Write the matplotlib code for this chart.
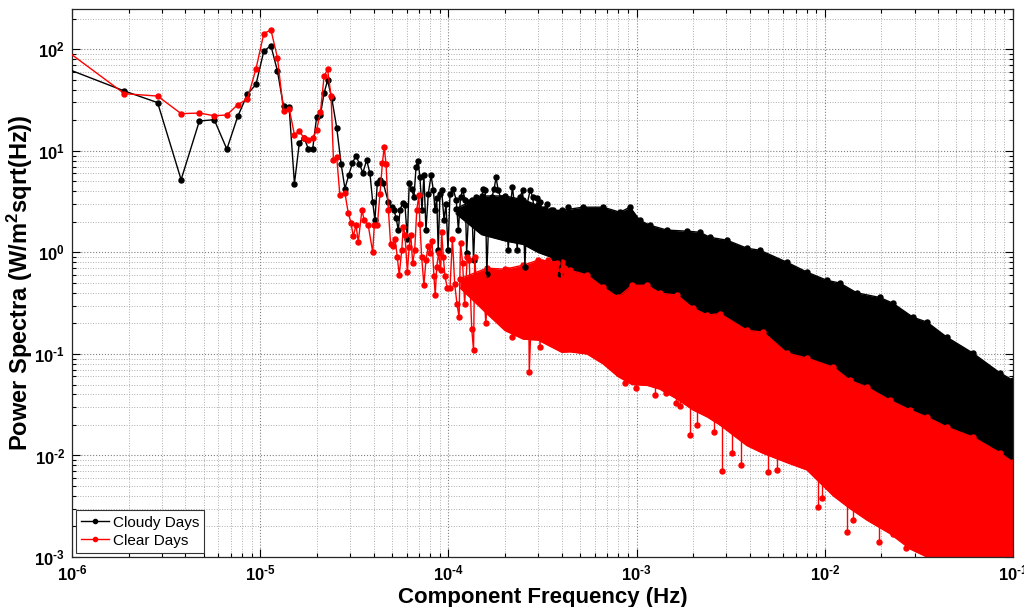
import numpy as np
import matplotlib
matplotlib.use("Agg")
import matplotlib.pyplot as plt
from matplotlib.ticker import LogLocator, NullFormatter, FuncFormatter

plt.rcParams['font.family'] = ['Liberation Sans', 'DejaVu Sans']
plt.rcParams['mathtext.fontset'] = 'custom'
plt.rcParams['mathtext.rm'] = 'Liberation Sans'
plt.rcParams['mathtext.bf'] = 'Liberation Sans:bold'
plt.rcParams['mathtext.it'] = 'Liberation Sans:italic'

# frequency resolution of the spectra (Hz); bin k sits at k * DF
DF = 0.95e-6

# lowest bins, k = 1 .. 24
cloudy_low = [64, 38.9, 29.9, 5.21, 19.7, 20.3, 10.4, 21.9, 36.1, 45.3, 96, 109,
              61.1, 27.5, 27.0, 4.77, 12.1, 13.5, 10.4, 10.4, 21.6, 22.8, 37.2, 49.5]
clear_low = [95, 36.6, 34.7, 23.3, 23.6, 22.2, 22.6, 28.6, 32.4, 64.6, 143, 156,
             82.8, 24.7, 26.1, 14.5, 15.6, 13.4, 12.7, 13.5, 16.0, 24.2, 54.2, 63.6]

# intermediate band, individual bins
cloudy_mid_f = [2.40e-5, 2.55e-5, 2.69e-5, 2.82e-5, 2.96e-5, 3.09e-5, 3.23e-5, 3.36e-5,
                3.51e-5, 3.68e-5, 3.83e-5, 3.96e-5, 4.07e-5, 4.19e-5, 4.33e-5, 4.51e-5,
                4.80e-5, 5.00e-5, 5.14e-5, 5.27e-5, 5.42e-5, 5.53e-5, 5.72e-5, 5.88e-5,
                6.05e-5, 6.19e-5, 6.38e-5, 6.56e-5, 6.73e-5, 6.89e-5, 7.06e-5, 7.24e-5,
                7.41e-5, 7.60e-5, 7.82e-5, 8.09e-5, 8.32e-5, 8.49e-5, 8.67e-5, 8.83e-5,
                9.02e-5, 9.21e-5, 9.48e-5, 9.71e-5, 9.95e-5, 1.02e-4, 1.06e-4, 1.10e-4,
                1.13e-4, 1.16e-4, 1.19e-4, 1.23e-4, 1.25e-4, 1.29e-4, 1.33e-4, 1.36e-4,
                1.40e-4, 1.44e-4, 1.49e-4, 1.52e-4, 1.57e-4, 1.60e-4, 1.65e-4, 1.70e-4,
                1.75e-4, 1.79e-4, 1.84e-4, 1.90e-4, 1.94e-4, 1.97e-4, 2.02e-4, 2.08e-4,
                2.14e-4, 2.19e-4, 2.26e-4, 2.32e-4, 2.40e-4, 2.48e-4, 2.55e-4, 2.62e-4,
                2.72e-4, 2.81e-4, 2.88e-4, 2.97e-4, 3.07e-4, 3.13e-4, 3.22e-4, 3.36e-4,
                3.47e-4, 3.58e-4, 3.68e-4, 3.79e-4, 3.92e-4, 4.05e-4, 4.17e-4, 4.34e-4]
cloudy_mid = [33, 17, 7.5, 4.26, 5.85, 7.6, 9.0, 7.5,
              6.1, 8.1, 6.0, 3.14, 2.07, 4.83, 5.14, 4.8,
              3.14, 2.8, 2.6, 2.2, 1.65, 2.6, 3.1, 2.9,
              1.37, 4.8, 4.2, 3.5, 6.9, 8.0, 5.5, 2.6,
              5.75, 1.65, 3.8, 5.75, 4.1, 2.6, 3.4, 1.05,
              3.8, 4.1, 2.1, 3.0, 1.05, 3.8, 4.2, 3.3,
              1.65, 3.5, 4.1, 3.3, 0.98, 3.14, 3.3, 0.84,
              3.5, 2.6, 1.65, 4.2, 4.1, 0.62, 3.0, 3.5,
              4.2, 5.5, 4.1, 3.4, 1.5, 2.1, 3.3, 1.05,
              3.0, 4.4, 2.6, 1.05, 3.5, 4.1, 0.72, 3.0,
              4.1, 3.5, 1.8, 3.4, 3.14, 1.5, 2.7, 3.0,
              1.05, 2.6, 2.4, 1.3, 0.62, 2.1, 1.5, 2.8]

clear_mid_f = [2.38e-5, 2.45e-5, 2.55e-5, 2.65e-5, 2.82e-5, 2.94e-5, 3.04e-5, 3.12e-5,
               3.23e-5, 3.32e-5, 3.47e-5, 3.57e-5, 3.75e-5, 3.96e-5, 4.04e-5, 4.19e-5,
               4.33e-5, 4.46e-5, 4.56e-5, 4.66e-5, 4.80e-5, 4.93e-5, 5.08e-5, 5.20e-5,
               5.35e-5, 5.48e-5, 5.65e-5, 5.76e-5, 5.88e-5, 6.05e-5, 6.19e-5, 6.31e-5,
               6.46e-5, 6.62e-5, 6.79e-5, 6.96e-5, 7.06e-5, 7.21e-5, 7.41e-5, 7.60e-5,
               7.82e-5, 7.98e-5, 8.18e-5, 8.38e-5, 8.51e-5, 8.67e-5, 8.87e-5, 9.10e-5,
               9.21e-5, 9.40e-5, 9.59e-5, 9.86e-5, 1.02e-4, 1.05e-4, 1.08e-4, 1.11e-4,
               1.14e-4, 1.16e-4, 1.19e-4, 1.22e-4, 1.26e-4, 1.29e-4, 1.33e-4, 1.36e-4,
               1.38e-4, 1.41e-4, 1.46e-4, 1.50e-4, 1.53e-4, 1.58e-4, 1.63e-4, 1.68e-4,
               1.72e-4, 1.77e-4, 1.82e-4, 1.86e-4, 1.92e-4, 1.97e-4, 2.02e-4, 2.08e-4,
               2.14e-4, 2.19e-4, 2.26e-4, 2.32e-4, 2.38e-4, 2.45e-4, 2.52e-4, 2.58e-4,
               2.66e-4, 2.69e-4, 2.77e-4, 2.83e-4, 2.88e-4, 3.01e-4, 3.07e-4, 3.13e-4,
               3.22e-4, 3.33e-4, 3.40e-4, 3.47e-4, 3.58e-4, 3.68e-4, 3.76e-4, 3.88e-4,
               4.00e-4, 4.11e-4]
clear_mid = [34.7, 8.2, 8.7, 3.66, 3.85, 2.42, 1.95, 1.44,
             1.85, 1.27, 2.6, 2.1, 1.85, 1.01, 1.85, 1.85,
             3.8, 7.6, 10.9, 7.5, 2.6, 1.22, 1.17, 1.37,
             0.9, 0.6, 1.05, 1.8, 1.5, 0.64, 1.13, 1.5,
             0.78, 1.05, 2.6, 3.65, 1.9, 0.9, 0.48, 0.84,
             1.17, 0.98, 1.3, 0.58, 0.38, 0.72, 0.98, 0.67,
             1.59, 0.9, 0.58, 0.45, 0.45, 1.37, 0.49, 0.314,
             0.23, 1.25, 0.78, 0.31, 0.9, 0.84, 0.178, 0.109,
             0.9, 0.49, 0.36, 0.62, 0.58, 0.2, 0.45, 0.55,
             0.39, 0.27, 0.36, 0.23, 0.57, 0.42, 0.23, 0.67,
             0.29, 0.146, 0.58, 0.42, 0.62, 0.29, 0.31, 0.36,
             0.58, 0.067, 0.29, 0.72, 0.29, 0.8, 0.118, 0.8,
             0.58, 0.42, 0.84, 0.36, 0.146, 0.53, 0.78, 0.127,
             0.67, 0.42]

# dense high-frequency range: upper and lower extent of the spectra
cloudy_band_f = [1.1e-4, 1.5e-4, 2e-4, 2.5e-4, 3e-4, 3.5e-4, 4e-4,
                 5.19e-4, 6.63e-4, 8.16e-4, 9.23e-4, 1.04e-3,
                 1.18e-3, 1.45e-3, 1.85e-3, 2.17e-3, 2.45e-3,
                 3.02e-3, 3.86e-3, 4.53e-3, 6.30e-3, 8.04e-3,
                 1.03e-2, 1.20e-2, 1.48e-2, 1.96e-2, 2.30e-2,
                 2.94e-2, 3.49e-2, 4.46e-2, 6.12e-2, 8.53e-2, 1e-1]
cloudy_band_hi = [2.7, 3.6, 3.6, 3.3, 2.9, 2.6, 2.6,
                  2.79, 2.79, 2.49, 2.79, 2.07,
                  1.85, 1.66, 1.62, 1.58, 1.41,
                  1.32, 1.10, 1.05, 0.80, 0.64,
                  0.53, 0.50, 0.40, 0.36, 0.316,
                  0.23, 0.206, 0.146, 0.102, 0.065, 0.055]
cloudy_band_lo = [2.4, 1.5, 1.3, 1.2, 1.0, 0.9, 0.55,
                  0.5, 0.42, 0.32, 0.33, 0.35,
                  0.35, 0.3, 0.24, 0.21, 0.19,
                  0.17, 0.13, 0.12, 0.09, 0.068,
                  0.058, 0.05, 0.04, 0.03, 0.027,
                  0.022, 0.018, 0.015, 0.011, 0.0075, 0.0068]

clear_band_f = [1.15e-4, 1.6e-4, 2e-4, 2.5e-4, 3e-4, 4e-4,
                4.43e-4, 5.45e-4, 6.63e-4, 7.96e-4, 9.46e-4,
                1.14e-3, 1.33e-3, 1.64e-3, 2.0e-3, 2.37e-3,
                2.77e-3, 3.86e-3, 4.70e-3, 6.30e-3, 8.04e-3,
                1.11e-2, 1.36e-2, 1.68e-2, 2.22e-2, 2.84e-2,
                3.49e-2, 4.46e-2, 6.12e-2, 8.53e-2, 1e-1]
clear_band_hi = [0.55, 0.7, 0.684, 0.75, 0.84, 0.80,
                 0.668, 0.60, 0.454, 0.362, 0.475,
                 0.475, 0.397, 0.38, 0.282, 0.241,
                 0.25, 0.171, 0.164, 0.102, 0.091,
                 0.074, 0.055, 0.047, 0.035, 0.028,
                 0.0239, 0.019, 0.0152, 0.0106, 0.0086]
clear_band_lo = [0.45, 0.25, 0.17, 0.14, 0.137, 0.104,
                 0.105, 0.1, 0.08, 0.06, 0.05,
                 0.049, 0.045, 0.036, 0.028, 0.024,
                 0.02, 0.0125, 0.0105, 0.0085, 0.0072,
                 0.004, 0.003, 0.0023, 0.0017, 0.0012,
                 0.001, 0.0008, 0.0008, 0.0008, 0.0008]

# deep isolated minima of the clear-day spectrum
clear_dip_f = [8.67e-4, 9.94e-4, 1.25e-3, 1.43e-3, 1.62e-3, 1.70e-3, 1.93e-3, 2.10e-3,
               2.58e-3, 2.84e-3, 3.21e-3, 3.59e-3, 4.99e-3, 5.57e-3, 6.53e-3, 9.2e-3,
               9.66e-3, 1.31e-2, 1.41e-2, 1.80e-2, 1.94e-2, 2.30e-2, 2.7e-2]
clear_dip_top = [0.07, 0.06, 0.055, 0.05, 0.045, 0.04, 0.035, 0.03,
                 0.025, 0.02, 0.018, 0.016, 0.012, 0.011, 0.0095, 0.006,
                 0.0058, 0.0035, 0.0034, 0.0025, 0.0022, 0.0018, 0.0015]
clear_dip_val = [0.052, 0.046, 0.039, 0.041, 0.033, 0.031, 0.016, 0.0199,
                 0.017, 0.0070, 0.0106, 0.0081, 0.0069, 0.0072, 0.009, 0.0031,
                 0.0038, 0.00176, 0.0023, 0.0023, 0.0014, 0.0017, 0.00123]

labels = ['Cloudy Days', 'Clear Days']
colors = ['black', (1.0, 0.0, 0.0)]

fig = plt.figure(figsize=(10.24, 6.07), dpi=100)
ax = fig.add_axes([72 / 1024, 1 - 557 / 607, 941 / 1024, 548 / 607])

ms = 3.6
lw = 1.0

low_f = [DF * (k + 1) for k in range(len(cloudy_low))]

series = [
    (cloudy_low, cloudy_mid_f, cloudy_mid, cloudy_band_f, cloudy_band_hi, cloudy_band_lo),
    (clear_low, clear_mid_f, clear_mid, clear_band_f, clear_band_hi, clear_band_lo),
]

for (low, mid_f, mid, bf, bhi, blo), lab, col in zip(series, labels, colors):
    f = low_f[:len(low)] + list(mid_f)
    v = list(low) + list(mid)
    ax.fill_between(bf, blo, bhi, color=col, lw=0, zorder=2)
    ax.plot(bf, bhi, color=col, lw=lw, marker='o', ms=ms, zorder=2)
    ax.plot(bf, blo, color=col, lw=lw, zorder=2)
    ax.plot(f, v, color=col, lw=lw, marker='o', ms=ms, label=lab, zorder=3)
    if lab == 'Clear Days':
        ax.vlines(clear_dip_f, clear_dip_val, clear_dip_top, color=col, lw=lw, zorder=3)
        ax.plot(clear_dip_f, clear_dip_val, ls='none', marker='o', ms=ms, color=col, zorder=3)

ax.set_xscale('log')
ax.set_yscale('log')
ax.set_xlim(1e-6, 1e-1)
ax.set_ylim(1e-3, 250)

ax.xaxis.set_major_locator(LogLocator(base=10, numticks=20))
ax.yaxis.set_major_locator(LogLocator(base=10, numticks=20))
ax.xaxis.set_minor_locator(LogLocator(base=10, subs=np.arange(2, 10), numticks=100))
ax.yaxis.set_minor_locator(LogLocator(base=10, subs=np.arange(2, 10), numticks=100))
ax.xaxis.set_minor_formatter(NullFormatter())
ax.yaxis.set_minor_formatter(NullFormatter())


def decade_label(val, pos):
    e = int(round(np.log10(val)))
    sign = '\u2010' if e < 0 else ''
    return r'$\mathbf{10^{%s%d}}$' % (sign, abs(e))


ax.xaxis.set_major_formatter(FuncFormatter(decade_label))
ax.yaxis.set_major_formatter(FuncFormatter(decade_label))

ax.grid(True, which='major', ls=':', color='0.5', lw=0.8, zorder=0)
ax.grid(True, which='minor', ls=':', color='0.68', lw=0.7, zorder=0)
ax.set_axisbelow(True)
ax.tick_params(which='both', direction='in', top=True, right=True, width=0.8)
ax.tick_params(which='major', length=6, labelsize=12, pad=5)
ax.tick_params(which='minor', length=3)
for s in ax.spines.values():
    s.set_linewidth(0.9)
    s.set_color('0.15')

ax.set_xlabel('Component Frequency (Hz)', fontsize=16, fontweight='bold', labelpad=2)
ax.set_ylabel(r'Power Spectra (W/m$^{\mathbf{2}}$sqrt(Hz))', fontsize=17, fontweight='bold')
ax.yaxis.set_label_coords(-0.039, 0.5)

leg = ax.legend(loc='lower left', bbox_to_anchor=(4 / 941, 4 / 548), borderaxespad=0,
                fontsize=11, fancybox=False, framealpha=1, edgecolor='0.2',
                handlelength=1.8, handletextpad=0.25, borderpad=0.35, labelspacing=0.25,
                numpoints=1)
leg.get_frame().set_linewidth(0.8)
for h in leg.get_lines():
    h.set_markersize(3)

fig.savefig('out.png', dpi=100)
